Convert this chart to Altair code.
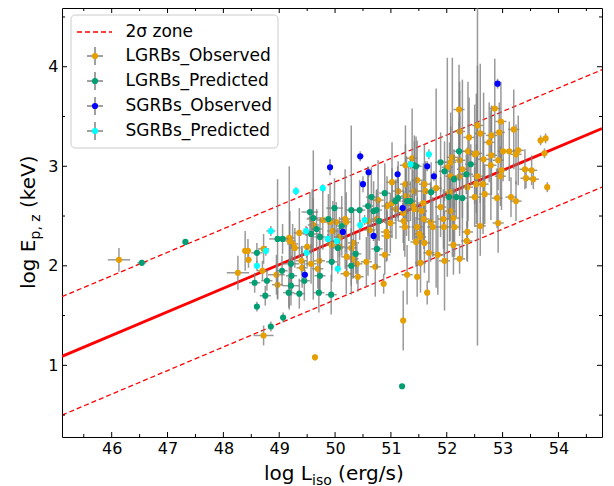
import altair as alt
import pandas as pd

# ---------------- data ----------------
X_DOMAIN = [45.11, 54.78]
Y_DOMAIN = [0.28, 4.59]

x_major = [46, 47, 48, 49, 50, 51, 52, 53, 54]
x_minor = [45.5, 46.5, 47.5, 48.5, 49.5, 50.5, 51.5, 52.5, 53.5, 54.5]
y_major = [1, 2, 3, 4]
y_minor = [0.5, 1.5, 2.5, 3.5, 4.5]

# fit line and 2-sigma zone (end points)
fit_x = [45.11, 54.78]
fit_y = [1.09, 3.38]
upper_y = [1.69, 3.97]
lower_y = [0.50, 2.79]

# (log L, log Ep, xerr, yerr)
lgrb_obs = [
    (46.13, 2.06, 0.20, 0.12), (48.26, 1.93, 0.20, 0.17), (48.39, 2.15, 0.05, 0.20),
    (48.44, 2.15, 0.05, 0.12), (48.45, 2.06, 0.05, 0.08), (48.72, 1.30, 0.18, 0.10),
    (49.64, 1.08, 0.03, 0.03), (48.72, 2.17, 0.10, 0.15), (48.70, 1.95, 0.10, 0.10),
    (48.95, 1.91, 0.15, 0.20), (48.97, 1.81, 0.10, 0.15), (49.18, 2.28, 0.10, 0.72),
    (49.19, 2.25, 0.10, 0.30), (49.24, 2.22, 0.10, 0.20), (49.28, 2.18, 0.10, 0.20),
    (49.36, 2.33, 0.10, 0.25), (49.50, 2.19, 0.10, 0.20), (49.59, 2.47, 0.10, 0.30),
    (49.61, 2.41, 0.10, 0.75), (49.40, 2.05, 0.10, 0.15), (49.41, 1.98, 0.10, 0.20),
    (49.57, 2.02, 0.10, 0.20), (49.72, 2.05, 0.10, 0.30), (49.69, 1.97, 0.10, 0.20),
    (49.78, 2.46, 0.10, 0.30), (49.91, 2.44, 0.10, 0.40), (49.96, 2.35, 0.10, 0.30),
    (50.02, 2.44, 0.10, 0.20), (50.18, 2.47, 0.10, 0.50), (50.20, 2.44, 0.10, 0.30),
    (50.08, 2.29, 0.10, 0.20), (49.94, 2.21, 0.10, 0.25), (50.08, 2.19, 0.10, 0.20),
    (50.29, 2.18, 0.10, 0.20), (50.33, 2.23, 0.10, 0.35), (50.21, 2.09, 0.10, 0.20),
    (50.32, 2.07, 0.10, 0.20), (50.20, 1.92, 0.10, 0.20), (50.59, 2.45, 0.10, 0.55),
    (50.62, 2.36, 0.10, 0.30), (50.56, 2.04, 0.10, 0.25), (50.72, 1.99, 0.10, 0.30),
    (50.77, 2.66, 0.10, 0.40), (50.75, 2.47, 0.10, 0.30), (51.02, 2.84, 0.10, 0.40),
    (51.13, 2.75, 0.10, 0.30), (50.93, 2.60, 0.10, 0.30), (51.02, 2.63, 0.10, 0.35),
    (51.09, 2.57, 0.10, 0.30), (50.92, 2.34, 0.10, 0.30), (50.93, 2.30, 0.10, 0.25),
    (50.99, 2.43, 0.10, 0.30), (51.22, 2.53, 0.10, 0.30), (51.23, 2.45, 0.10, 0.30),
    (51.25, 2.39, 0.10, 0.30), (51.32, 2.65, 0.10, 0.40), (51.39, 2.61, 0.10, 0.35),
    (51.42, 2.75, 0.10, 0.50), (51.47, 2.86, 0.10, 0.40), (51.38, 3.08, 0.10, 0.50),
    (51.58, 2.63, 0.10, 0.40), (51.55, 2.55, 0.10, 0.30), (51.59, 2.47, 0.10, 0.30),
    (51.71, 2.44, 0.10, 0.40), (51.75, 2.39, 0.10, 0.30), (51.51, 2.32, 0.10, 0.30),
    (51.45, 2.24, 0.10, 0.25), (51.68, 2.13, 0.10, 0.30), (51.29, 1.91, 0.10, 0.30),
    (51.65, 1.73, 0.05, 0.12), (50.89, 2.11, 0.10, 0.20), (50.87, 1.82, 0.05, 0.10),
    (50.39, 2.02, 0.10, 0.20), (50.41, 1.89, 0.10, 0.15), (51.22, 1.45, 0.05, 0.30),
    (52.22, 3.57, 0.10, 0.45), (52.55, 3.41, 0.10, 0.60), (52.97, 3.45, 0.10, 0.40),
    (53.20, 3.37, 0.10, 0.40), (52.23, 3.35, 0.10, 0.50), (52.60, 3.33, 0.10, 0.70),
    (52.80, 3.31, 0.10, 0.30), (52.94, 3.34, 0.10, 0.30), (52.76, 3.24, 0.10, 0.40),
    (52.40, 3.29, 0.10, 0.40), (53.68, 3.26, 0.05, 0.05), (53.77, 3.28, 0.05, 0.05),
    (53.75, 3.13, 0.05, 0.05), (53.01, 3.15, 0.10, 0.30), (53.12, 3.15, 0.10, 0.30),
    (53.28, 3.16, 0.10, 0.35), (53.24, 3.12, 0.10, 0.30), (52.80, 3.11, 0.10, 0.40),
    (52.92, 3.06, 0.10, 0.30), (52.66, 3.07, 0.10, 0.67), (52.38, 3.15, 0.10, 0.70),
    (52.53, 3.13, 0.10, 0.60), (52.23, 3.06, 0.10, 0.70), (52.07, 3.04, 0.10, 0.50),
    (52.01, 2.99, 0.10, 1.10), (51.26, 2.82, 0.10, 0.40), (51.60, 2.82, 0.10, 0.40),
    (51.62, 2.75, 0.10, 0.30), (51.81, 2.78, 0.10, 1.00), (52.07, 2.90, 0.10, 0.50),
    (52.23, 2.90, 0.10, 0.60), (52.28, 2.97, 0.10, 0.90), (52.55, 2.90, 0.10, 1.70),
    (52.79, 3.01, 0.10, 0.55), (52.98, 2.96, 0.10, 0.40), (52.96, 2.90, 0.10, 0.30),
    (52.65, 2.82, 0.10, 0.50), (52.53, 2.82, 0.10, 0.40), (52.37, 2.79, 0.10, 0.40),
    (52.05, 2.74, 0.10, 0.50), (53.40, 2.97, 0.10, 0.20), (53.52, 2.96, 0.10, 0.15),
    (53.42, 2.88, 0.10, 0.10), (53.55, 2.87, 0.10, 0.10), (53.80, 2.79, 0.05, 0.05),
    (53.15, 2.69, 0.10, 0.20), (53.24, 2.65, 0.10, 0.20), (52.90, 2.68, 0.10, 0.30),
    (52.68, 2.72, 0.10, 0.30), (52.50, 2.69, 0.10, 0.30), (52.60, 2.40, 0.10, 0.30),
    (52.92, 2.43, 0.10, 0.30), (52.37, 2.34, 0.10, 0.30), (52.36, 2.25, 0.10, 0.20),
    (52.12, 2.21, 0.10, 0.30), (52.14, 2.39, 0.10, 0.30), (52.12, 2.48, 0.10, 0.30),
    (52.06, 2.55, 0.10, 0.30), (51.89, 2.59, 0.10, 0.30), (51.94, 2.47, 0.10, 0.30),
    (51.95, 2.39, 0.10, 0.30), (51.47, 2.39, 0.10, 0.30), (51.53, 2.29, 0.10, 0.30),
    (51.60, 2.23, 0.10, 0.30), (51.84, 2.11, 0.10, 0.40), (51.96, 2.05, 0.10, 0.50),
    (52.23, 2.07, 0.10, 0.15), (51.53, 2.03, 0.10, 0.30), (51.47, 1.89, 0.05, 0.20),
    (51.28, 2.70, 0.10, 0.40), (51.42, 2.57, 0.10, 0.30), (52.86, 3.58, 0.10, 0.50),
    (51.26, 3.01, 0.10, 0.40), (52.10, 3.09, 0.10, 1.00), (52.50, 3.12, 0.10, 0.50),
]

lgrb_pred = [
    (46.54, 2.03, 0.08, 0.03), (47.32, 2.24, 0.05, 0.03), (51.20, 0.79, 0.02, 0.02),
    (48.85, 1.39, 0.05, 0.05), (49.07, 1.48, 0.05, 0.05), (48.60, 1.59, 0.05, 0.05),
    (48.60, 2.13, 0.10, 0.10), (48.56, 1.83, 0.10, 0.10), (48.78, 1.85, 0.10, 0.10),
    (48.97, 2.27, 0.15, 0.60), (49.06, 2.27, 0.10, 0.15), (49.21, 2.02, 0.15, 0.20),
    (49.21, 1.80, 0.15, 0.20), (49.36, 1.72, 0.10, 0.15), (49.55, 2.54, 0.15, 0.20),
    (49.61, 2.48, 0.10, 0.20), (49.67, 2.37, 0.10, 0.20), (49.57, 2.32, 0.15, 0.20),
    (49.73, 2.29, 0.10, 0.20), (49.88, 2.47, 0.10, 0.25), (49.99, 2.58, 0.15, 0.30),
    (50.12, 2.40, 0.10, 0.30), (50.29, 2.56, 0.10, 0.85), (50.44, 2.56, 0.10, 0.30),
    (50.59, 2.60, 0.10, 0.30), (50.65, 2.69, 0.10, 0.30), (50.69, 2.55, 0.10, 0.30),
    (50.74, 2.56, 0.10, 0.20), (50.89, 2.73, 0.10, 0.30), (50.79, 2.45, 0.10, 0.20),
    (50.75, 2.17, 0.10, 0.20), (50.37, 2.12, 0.10, 0.20), (50.29, 2.00, 0.10, 0.20),
    (49.94, 2.04, 0.10, 0.20), (49.73, 1.90, 0.10, 0.20), (49.93, 1.71, 0.10, 0.20),
    (49.71, 1.73, 0.10, 0.20), (50.05, 2.18, 0.10, 0.20), (51.08, 2.65, 0.10, 0.20),
    (51.13, 2.68, 0.10, 0.20), (51.29, 2.65, 0.10, 0.20), (51.72, 2.74, 0.10, 0.30),
    (51.45, 3.00, 0.10, 0.30), (49.22, 1.90, 0.10, 0.20), (52.22, 3.15, 0.10, 0.30),
    (51.89, 3.04, 0.10, 0.30), (51.96, 2.95, 0.10, 0.30), (52.13, 2.87, 0.10, 0.30),
    (52.35, 2.92, 0.12, 0.20), (52.43, 3.02, 0.10, 0.20), (52.04, 2.69, 0.10, 0.20),
    (52.17, 2.69, 0.10, 0.20), (52.28, 2.68, 0.10, 0.20), (51.35, 2.65, 0.10, 0.20),
    (51.42, 3.01, 0.10, 0.30), (48.75, 1.70, 0.10, 0.10), (49.17, 1.73, 0.10, 0.15),
    (49.45, 1.85, 0.10, 0.20), (49.05, 1.95, 0.10, 0.15),
]

sgrb_obs = [
    (49.46, 1.91, 0.05, 0.05), (49.91, 2.99, 0.05, 0.08), (50.45, 3.10, 0.06, 0.05),
    (50.60, 2.94, 0.05, 0.05), (50.50, 2.82, 0.05, 0.08), (51.12, 2.92, 0.05, 0.08),
    (51.65, 3.00, 0.05, 0.05), (51.77, 2.90, 0.05, 0.05), (52.91, 3.83, 0.05, 0.05),
    (50.14, 2.34, 0.05, 0.05), (50.69, 2.30, 0.05, 0.05), (51.21, 2.58, 0.05, 0.05),
]

sgrb_pred = [
    (49.30, 2.75, 0.05, 0.04), (49.78, 2.78, 0.05, 0.04), (48.85, 2.35, 0.08, 0.05),
    (48.76, 2.15, 0.05, 0.05), (48.60, 2.00, 0.05, 0.05), (49.48, 2.35, 0.05, 0.05),
    (49.87, 2.27, 0.05, 0.05), (50.03, 2.25, 0.05, 0.05), (49.49, 2.13, 0.05, 0.05),
    (50.05, 1.97, 0.05, 0.05), (50.45, 2.41, 0.05, 0.05), (50.53, 2.46, 0.05, 0.05),
    (51.68, 3.12, 0.05, 0.05), (51.35, 3.02, 0.05, 0.05),
]

legend_labels = ["2σ zone", "LGRBs_Observed", "LGRBs_Predicted",
                 "SGRBs_Observed", "SGRBs_Predicted"]

# ---------------- styling ----------------
W, H = 540, 429
FONT = "DejaVu Sans"
ECOLOR = "#808080"
COLORS = ["#E69F00", "#009E73", "#0000FF", "#00FFFF"]
MSIZE = 38

xs = alt.Scale(domain=X_DOMAIN, nice=False, zero=False)
ys = alt.Scale(domain=Y_DOMAIN, nice=False, zero=False)

xaxis = alt.Axis(values=x_major, format="d", title=None, ticks=False, tickSize=0,
                 domain=False, grid=False, labelFontSize=16, labelFont=FONT,
                 labelColor="black", labelPadding=3)
yaxis = alt.Axis(values=y_major, format="d", title=None, ticks=False, tickSize=0,
                 domain=False, grid=False, labelFontSize=16, labelFont=FONT,
                 labelColor="black", labelPadding=4)


def X(field):
    return alt.X(field, scale=xs, axis=xaxis)


def Y(field):
    return alt.Y(field, scale=ys, axis=yaxis)


layers = []

# fit line + 2 sigma lines
lines_df = pd.DataFrame({"x": fit_x, "fit": fit_y, "up": upper_y, "lo": lower_y})
lb = alt.Chart(lines_df)
layers.append(lb.mark_line(color="red", strokeWidth=1.3, strokeDash=[5, 3], clip=True).encode(
    x=X("x:Q"), y=Y("up:Q")))
layers.append(lb.mark_line(color="red", strokeWidth=1.3, strokeDash=[5, 3], clip=True).encode(
    x=X("x:Q"), y=Y("lo:Q")))
layers.append(lb.mark_line(color="red", strokeWidth=2.8, clip=True).encode(
    x=X("x:Q"), y=Y("fit:Q")))


def series_layers(rows, color):
    df = pd.DataFrame(rows, columns=["x", "y", "xerr", "yerr"])
    df["x_lo"] = df["x"] - df["xerr"]
    df["x_hi"] = df["x"] + df["xerr"]
    df["y_lo"] = df["y"] - df["yerr"]
    df["y_hi"] = df["y"] + df["yerr"]
    base = alt.Chart(df)
    h = base.mark_rule(color=ECOLOR, strokeWidth=1.5, opacity=0.8, clip=True).encode(
        x=X("x_lo:Q"), x2="x_hi:Q", y=Y("y:Q"))
    v = base.mark_rule(color=ECOLOR, strokeWidth=1.5, opacity=0.8, clip=True).encode(
        x=X("x:Q"), y=Y("y_lo:Q"), y2="y_hi:Q")
    p = base.mark_circle(color=color, size=MSIZE, opacity=1, clip=True).encode(
        x=X("x:Q"), y=Y("y:Q"))
    return [h, v, p]


for rows, col in zip([lgrb_obs, lgrb_pred, sgrb_obs, sgrb_pred], COLORS):
    layers += series_layers(rows, col)


# inward ticks on all four sides
def tick_layers(vals, length):
    d = alt.Chart(pd.DataFrame({"v": vals}))
    return [
        d.mark_rule(color="black", strokeWidth=1).encode(
            x=X("v:Q"), y=alt.value(H), y2=alt.value(H - length)),
        d.mark_rule(color="black", strokeWidth=1).encode(
            x=X("v:Q"), y=alt.value(0), y2=alt.value(length)),
    ]


def ytick_layers(vals, length):
    d = alt.Chart(pd.DataFrame({"v": vals}))
    return [
        d.mark_rule(color="black", strokeWidth=1).encode(
            y=Y("v:Q"), x=alt.value(0), x2=alt.value(length)),
        d.mark_rule(color="black", strokeWidth=1).encode(
            y=Y("v:Q"), x=alt.value(W), x2=alt.value(W - length)),
    ]


layers += tick_layers(x_major, 5) + tick_layers(x_minor, 3)
layers += ytick_layers(y_major, 5) + ytick_layers(y_minor, 3)

# ---------------- legend ----------------
one = pd.DataFrame({"k": [0]})
layers.append(alt.Chart(one).mark_rect(fill="white", fillOpacity=0.85, stroke="#cccccc",
                                       strokeWidth=1, cornerRadius=4).encode(
    x=alt.value(9), x2=alt.value(216), y=alt.value(7), y2=alt.value(140)))
leg_y = [24, 48, 73, 98, 123]
layers.append(alt.Chart(one).mark_rule(color="red", strokeWidth=1.3, strokeDash=[5, 3]).encode(
    x=alt.value(15), x2=alt.value(50), y=alt.value(leg_y[0])))
for yy, col in zip(leg_y[1:], COLORS):
    layers.append(alt.Chart(one).mark_rule(color=ECOLOR, strokeWidth=1.5).encode(
        x=alt.value(25), x2=alt.value(41), y=alt.value(yy)))
    layers.append(alt.Chart(one).mark_rule(color=ECOLOR, strokeWidth=1.5).encode(
        x=alt.value(33), y=alt.value(yy - 9), y2=alt.value(yy + 9)))
    layers.append(alt.Chart(one).mark_point(shape="circle", filled=True, color=col,
                                            size=MSIZE, opacity=1).encode(
        x=alt.value(33), y=alt.value(yy)))
for yy, lab in zip(leg_y, legend_labels):
    layers.append(alt.Chart(pd.DataFrame({"label": [lab]})).mark_text(
        align="left", baseline="middle", font=FONT, fontSize=17, color="black").encode(
        x=alt.value(63.5), y=alt.value(yy), text="label:N"))


# ---------------- axis titles (with subscripts) ----------------
def txt(s, x, y, size, angle=0):
    return alt.Chart(pd.DataFrame({"t": [s]})).mark_text(
        align="left", baseline="alphabetic", font=FONT, fontSize=size,
        color="black", angle=angle).encode(x=alt.value(x), y=alt.value(y), text="t:N")


layers += [txt("log L", 202, 472, 20), txt("iso", 250, 476.5, 14),
           txt("(erg/s)", 276.1, 472, 20)]
layers += [txt("log E", -27, 281, 20, 270), txt("p, z", -22.5, 231.5, 14, 270),
           txt("(keV)", -27, 200, 20, 270)]

chart = alt.layer(*layers).properties(
    width=W, height=H,
    autosize=alt.AutoSizeParams(type="none"),
    padding={"left": 54, "top": 0, "right": 4, "bottom": 49},
).configure_view(stroke="black", strokeWidth=1)

chart.save("out.html", embed_options={"renderer": "svg", "actions": False})
